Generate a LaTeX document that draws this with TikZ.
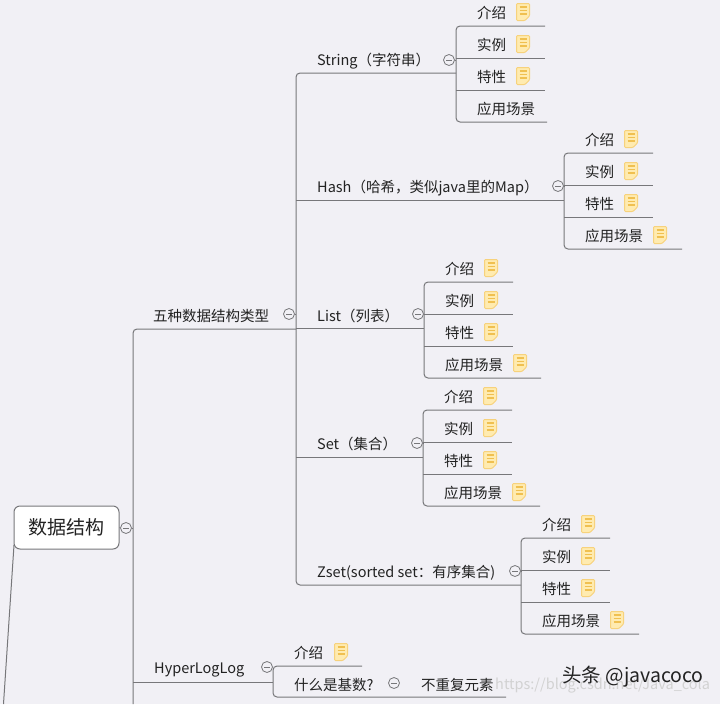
\documentclass[tikz,border=0pt]{standalone}
\usepackage{fontspec}
\setmainfont{Noto Sans CJK SC}
\usetikzlibrary{calc,positioning}
\definecolor{paper}{HTML}{F1F0F5}
\definecolor{branchgray}{HTML}{77777A}
\definecolor{inkgray}{HTML}{222222}
\definecolor{notefill}{HTML}{FFEBB0}
\definecolor{notedraw}{HTML}{F7D27C}
\definecolor{noteline}{HTML}{F0C050}
\tikzset{
  branch/.style={draw=branchgray,line width=1pt,rounded corners=4pt},
  itemtext/.style={anchor=west,inner sep=0pt,yshift=-0.8pt,text=inkgray,font=\fontsize{14.5}{16}\selectfont},
  roottext/.style={draw=branchgray,line width=1pt,fill=white,rounded corners=6pt,
    minimum width=105pt,minimum height=43pt,inner sep=0pt,text=inkgray,font=\fontsize{19}{22}\selectfont},
  foldbtn/.style={circle,draw=branchgray,line width=0.8pt,fill=paper,minimum size=11pt,inner sep=0pt,
    path picture={\draw[branchgray,line width=0.8pt] ([xshift=-3pt]path picture bounding box.center)
      -- ([xshift=3pt]path picture bounding box.center);}},
  noteicon/.pic={
    \draw[draw=notedraw,fill=notefill,line width=1pt,rounded corners=1pt]
      (-6.5,8.5) -- (2,8.5) -- (6.5,4) -- (6.5,-8.5) -- (-6.5,-8.5) -- cycle;
    \draw[noteline,line width=1.4pt] (-3.5,2) -- (3.5,2) (-3.5,-1.5) -- (3.5,-1.5) (-3.5,-5) -- (3.5,-5);
  }
}
% four rows hanging off one parent line: name, bus x, first rule y, last rule end x
\newcommand{\rowgroup}[4]{
  \coordinate (#1r1) at (#2+89,#3);
  \coordinate (#1r2) at (#2+89,#3+32);
  \coordinate (#1r3) at (#2+89,#3+64);
  \coordinate (#1r4) at (#4,#3+96);
  \node[itemtext] (#1a) at (#2+21,#3-14) {介绍};
  \node[itemtext] (#1b) at (#2+21,#3+18) {实例};
  \node[itemtext] (#1c) at (#2+21,#3+50) {特性};
  \node[itemtext] (#1d) at (#2+21,#3+82) {应用场景};
  \pic at (#2+67,#3-14) {noteicon};
  \pic at (#2+67,#3+18) {noteicon};
  \pic at (#2+67,#3+50) {noteicon};
  \draw[branch] (#1r1) -- (#2,#3) -- (#2,#3+96) -- (#1r4);
  \draw[branch] (#2,#3+32) -- (#1r2);
  \draw[branch] (#2,#3+64) -- (#1r3);
}
\begin{document}
\begin{tikzpicture}[x=1pt,y=-1pt]
  \fill[paper] (0,0) rectangle (720,704);
  \useasboundingbox (0,0) rectangle (720,704);

  % root
  \node[roottext] (root) at (66.5,527.5) {数据结构};
  \node[foldbtn] (rootbtn) at (126,528) {};
  \coordinate (leftend) at (3.5,704);
  \coordinate (mainend) at (133,704);
  \draw[branch] (14,545) -- (leftend);
  \draw[branch] (root.east) -- (rootbtn);

  % five types
  \node[itemtext] (types) at (153,315) {五种数据结构类型};
  \node[foldbtn] (typesbtn) at (289,314) {};
  \coordinate (typesend) at (296,329);
  \draw[branch] (typesend) -- (133,329) -- (mainend);
  \draw[branch] (rootbtn) -- (133,528);
  \draw[branch] (typesbtn) -- (296,314);

  \node[itemtext] (string) at (317,60) {String（字符串）};
  \node[itemtext] (hash) at (317,187) {Hash（哈希，类似java里的Map）};
  \node[itemtext] (list) at (317,315) {List（列表）};
  \node[itemtext] (set) at (317,443) {Set（集合）};
  \node[itemtext] (zset) at (317,572) {Zset(sorted set：有序集合)};
  \draw[branch] (456,73) -- (296,73) -- (296,585) -- (521,585);
  \draw[branch] (296,200) -- (564,200);
  \draw[branch] (296,328) -- (424,328);
  \draw[branch] (296,457) -- (423,457);

  \rowgroup{str}{456}{26}{547}
  \rowgroup{hsh}{564}{153}{682}
  \rowgroup{lst}{424}{282}{541}
  \rowgroup{sts}{423}{410}{540}
  \rowgroup{zst}{521}{538}{639}
  \pic at (660,235) {noteicon};
  \pic at (520,363) {noteicon};
  \pic at (519,492) {noteicon};
  \pic at (617,620) {noteicon};

  \node[foldbtn] (strbtn) at (449,60) {};
  \node[foldbtn] (hshbtn) at (558,186) {};
  \node[foldbtn] (lstbtn) at (418,314) {};
  \node[foldbtn] (stsbtn) at (417,443) {};
  \node[foldbtn] (zstbtn) at (515,571) {};
  \draw[branch] (strbtn) -- (456,60);
  \draw[branch] (hshbtn) -- (564,186);
  \draw[branch] (lstbtn) -- (424,314);
  \draw[branch] (stsbtn) -- (423,443);
  \draw[branch] (zstbtn) -- (521,571);

  % hyperloglog
  \node[itemtext] (hll) at (154,669) {HyperLogLog};
  \node[foldbtn] (hllbtn) at (267,667) {};
  \draw[branch] (133,682) -- (273,682);
  \node[itemtext] (hlla) at (294,652) {介绍};
  \pic at (341,652) {noteicon};
  \node[itemtext] (hllb) at (294,684) {什么是基数?};
  \node[foldbtn] (basebtn) at (394,683) {};
  \node[itemtext] (hllc) at (421,684) {不重复元素};
  \draw[branch] (362,666) -- (273,666) -- (273,697) -- (506,697);

  % watermark
  \node[anchor=west,inner sep=0pt,text=gray!35,font=\fontsize{14.5}{16}\selectfont] (wmurl) at (495,686) {https://blog.csdn.net/Java\_cola};
  \node[anchor=west,inner sep=0pt,text=inkgray,font=\fontsize{19.5}{22}\selectfont] (wmname) at (562,677) {头条 @javacoco};
\end{tikzpicture}
\end{document}
